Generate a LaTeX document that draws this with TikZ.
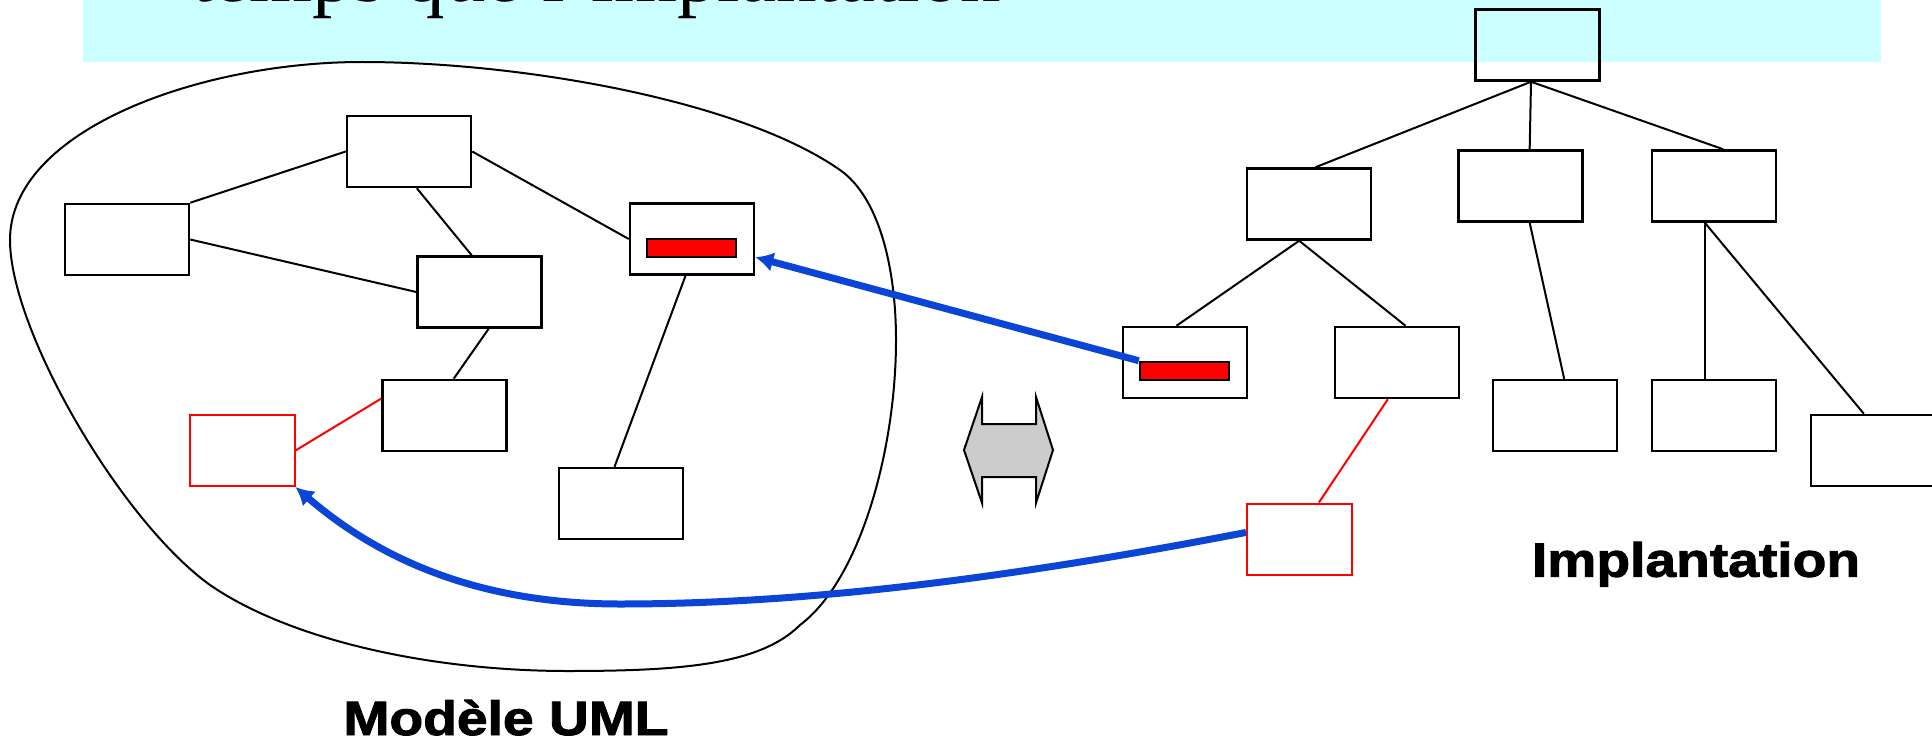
\documentclass[tikz,border=0pt]{standalone}
\usepackage{fontspec}
\setmainfont{Liberation Serif}
\newfontfamily\lblfont[FakeStretch=1.15,FakeBold=2]{Liberation Sans}
\definecolor{bandCyan}{HTML}{CCFFFF}
\definecolor{traceBlue}{HTML}{0A45D8}
\definecolor{swapGray}{HTML}{CCCCCC}
\usetikzlibrary{arrows.meta}

\begin{document}
\begin{tikzpicture}[x=1pt,y=-1pt,
  box/.style={draw,line width=2.5pt,inner sep=0pt,minimum width=124pt,minimum height=71pt},
  redbox/.style={box,draw=red,line width=2pt,minimum width=105pt},
  bar/.style={draw,fill=red,line width=2.5pt,inner sep=0pt,minimum width=89pt,minimum height=18pt},
  link/.style={line width=2pt},
  redlink/.style={red,line width=2pt},
  trace/.style={traceBlue,line width=7pt,-{Latex[length=18pt,width=20pt]}},
  lbl/.style={font=\lblfont\bfseries\fontsize{48}{56}\selectfont,inner sep=0pt,anchor=base}]
  \useasboundingbox (0,0) rectangle (1932,741);
  % title band, cut at the top
  \fill[bandCyan] (83,0) rectangle (1881,62);
  \node[anchor=base west,inner sep=0pt,font=\fontsize{81}{90}\selectfont] (title) at (191,1.5) {temps que l'implantation};
  % UML model
  \draw[line width=2pt] (362,62) .. controls (520,62) and (740,100) .. (840,170)
    .. controls (880,198) and (896,270) .. (896,340)
    .. controls (896,450) and (860,580) .. (800,625)
    .. controls (760,665) and (680,671) .. (568,671)
    .. controls (430,671) and (290,640) .. (210,585)
    .. controls (120,520) and (10,330) .. (10,240)
    .. controls (10,130) and (200,62) .. cycle;
  \node[box] (ut) at (409,151.5) {};
  \node[box] (ul) at (127,239.5) {};
  \node[box] (um) at (479.5,292) {};
  \node[box] (ur) at (692,239) {};
  \node[bar] (ubar) at (691.5,248) {};
  \node[box] (ub) at (444.5,415.5) {};
  \node[box] (ubr) at (621,503.5) {};
  \node[redbox] (urd) at (242,450.5) {};
  \draw[link] (ul.north east) -- (ut.west);
  \draw[link] (ul.east) -- (um.west);
  \draw[link] (ut.-78) -- (um.102);
  \draw[link] (ut.east) -- (ur.west);
  \draw[link] (ur.-100) -- (ubr.100);
  \draw[link] (um.-76) -- (ub.76);
  \draw[redlink] (urd.east) -- (ub.165);
  \node[lbl] (umlLbl) at (506,735) {Modèle UML};
  % swap arrow
  \draw[fill=swapGray,line width=2pt] (964,450) -- (982,397) -- (982,424) -- (1036,424) -- (1036,397) -- (1053,450) -- (1036,503) -- (1036,477) -- (982,477) -- (982,503) -- cycle;
  % implementation tree
  \node[box] (it) at (1537.5,45) {};
  \node[box] (i1) at (1309,204) {};
  \node[box] (i2) at (1520.5,186) {};
  \node[box] (i3) at (1714,186) {};
  \node[box] (i4) at (1185,362.5) {};
  \node[bar] (ibar) at (1184.5,371) {};
  \node[box] (i5) at (1397,362.5) {};
  \node[box] (i6) at (1555,415.5) {};
  \node[box] (i7) at (1714,415.5) {};
  \node[box] (i8) at (1873,450.5) {};
  \node[redbox] (ird) at (1299.5,539) {};
  \draw[link] (it.-100) -- (i1.80);
  \draw[link] (it.-100) -- (i2.76);
  \draw[link] (it.-100) -- (i3.76);
  \draw[link] (i1.-105) -- (i4.103);
  \draw[link] (i1.-105) -- (i5.77);
  \draw[link] (i2.-76) -- (i6.76);
  \draw[link] (i3.-104) -- (i7.104);
  \draw[link] (i3.-104) -- (i8.104);
  \draw[redlink] (i5.-104) -- (ird.62);
  \node[lbl] (implLbl) at (1696,576.7) {Implantation};
  % traceability links
  \draw[trace] (ibar.north west) -- (ur.-16);
  \coordinate (dip) at (620,604);
  \draw[trace] (ird.173) .. controls (1000,580) and (800,604) .. (dip) .. controls (480,604) and (380,560) .. (urd.south east);
\end{tikzpicture}
\end{document}
